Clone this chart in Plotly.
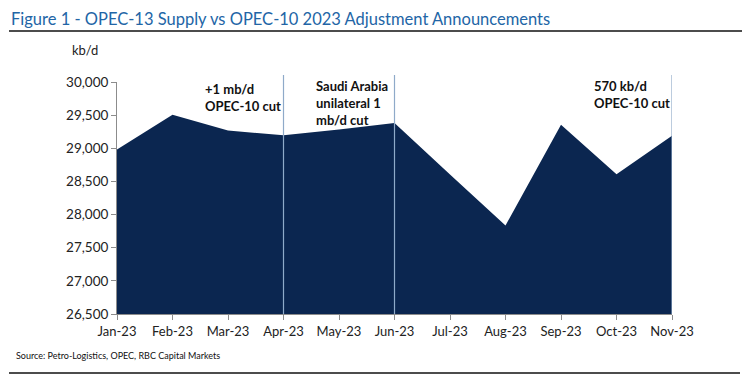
import plotly.graph_objects as go

months = ["Jan-23", "Feb-23", "Mar-23", "Apr-23", "May-23", "Jun-23",
          "Jul-23", "Aug-23", "Sep-23", "Oct-23", "Nov-23"]
supply = [28980, 29505, 29270, 29195, 29285, 29380, 28605, 27835, 29355, 28610, 29190]
yticks = [26500, 27000, 27500, 28000, 28500, 29000, 29500, 30000]
event_months = ["Apr-23", "Jun-23", "Nov-23"]
event_labels = ["+1 mb/d<br>OPEC-10 cut", "Saudi Arabia<br>unilateral 1<br>mb/d cut",
                "570 kb/d<br>OPEC-10 cut"]

FONT = "Lato, Carlito, 'Open Sans', sans-serif"
NAVY = "#0B2650"
xs = list(range(len(months)))

W, H = 750, 384
OFF = 8  # page body offset
# plot area in reference pixels: left 117, right 672, top 82, bottom 314
L, T = 117 - OFF, 82 - OFF
R = W - (672 - OFF)
B = H - (314 - OFF)
pw, ph = W - L - R, H - T - B


def px(x):
    return (x - OFF - L) / pw


def py(y):
    return 1 - (y - OFF - T) / ph


fig = go.Figure()
fig.add_trace(go.Scatter(x=xs, y=supply, mode="lines", fill="tozeroy",
                         line=dict(color=NAVY, width=0), fillcolor=NAVY,
                         hoverinfo="skip", showlegend=False))

for m in event_months:
    i = months.index(m)
    fig.add_shape(type="line", xref="x", yref="paper", x0=i, x1=i,
                  y0=0, y1=py(75), line=dict(color="#8FAAC9", width=1.2),
                  layer="above")

ann_pos = [(203, 79), (314, 76), (592, 76)]
for (ax, ay), txt in zip(ann_pos, event_labels):
    fig.add_annotation(xref="paper", yref="paper", x=px(ax), y=py(ay),
                       xanchor="left", yanchor="top", align="left",
                       text="<b>" + txt + "</b>", showarrow=False,
                       font=dict(family=FONT, size=13, color="#111111"))

fig.add_annotation(xref="paper", yref="paper", x=px(85), y=py(50),
                   xanchor="center", yanchor="middle", text="kb/d", showarrow=False,
                   font=dict(family=FONT, size=13, color="#222222"))

fig.add_annotation(xref="paper", yref="paper", x=px(10), y=py(OFF),
                   xanchor="left", yanchor="top", borderpad=0,
                   text="Figure 1 - OPEC-13 Supply vs OPEC-10 2023 Adjustment Announcements",
                   showarrow=False, font=dict(family=FONT, size=16.5, color="#2265A6"))

fig.add_annotation(xref="paper", yref="paper", x=px(14), y=py(355),
                   xanchor="left", yanchor="middle",
                   text="Source: Petro-Logistics, OPEC, RBC Capital Markets",
                   showarrow=False, font=dict(family=FONT, size=9, color="#111111"))

for yy, x0, x1 in [(31, 9, 750), (373, 9, 740)]:
    fig.add_shape(type="line", xref="paper", yref="paper",
                  x0=px(x0), x1=px(x1), y0=py(yy), y1=py(yy),
                  line=dict(color="#111111", width=1.5))

fig.update_layout(
    width=W, height=H, margin=dict(l=L, r=R, t=T, b=B),
    paper_bgcolor="white", plot_bgcolor="white",
    xaxis=dict(range=[0, len(months) - 1], tickvals=xs, ticktext=months,
               showgrid=False, zeroline=False, showline=True, linecolor="#8C8C8C",
               linewidth=1, ticks="outside", ticklen=5, tickcolor="#8C8C8C",
               tickfont=dict(family=FONT, size=13, color="#222222")),
    yaxis=dict(range=[26500, 30000], tickvals=yticks, tickformat=",",
               showgrid=False, zeroline=False, showline=True, linecolor="#8C8C8C",
               linewidth=1, ticks="outside", ticklen=5, tickcolor="#8C8C8C",
               tickfont=dict(family=FONT, size=13.5, color="#222222")),
)

fig.write_html("out.html")
